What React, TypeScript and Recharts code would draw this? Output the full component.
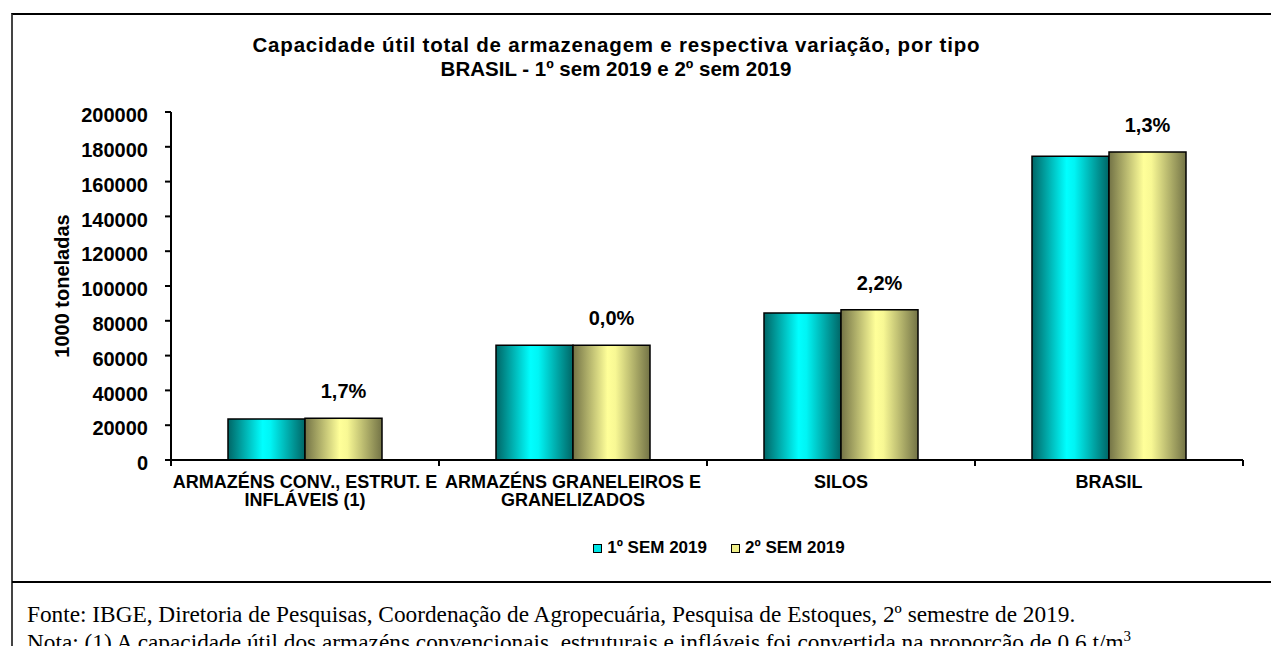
import { BarChart, Bar, XAxis, YAxis, Legend, LabelList, Label } from 'recharts';

const categoryLines = [
  ['ARMAZÉNS CONV., ESTRUT. E', 'INFLÁVEIS (1)'],
  ['ARMAZÉNS GRANELEIROS E', 'GRANELIZADOS'],
  ['SILOS'],
  ['BRASIL'],
];
const firstSemester = [23600, 66000, 84500, 174600];
const secondSemester = [24000, 66000, 86400, 177000];
const variation = ['1,7%', '0,0%', '2,2%', '1,3%'];
const yTicks = [0, 20000, 40000, 60000, 80000, 100000, 120000, 140000, 160000, 180000, 200000];
const seriesNames = { sem1: '1º SEM 2019', sem2: '2º SEM 2019' };

const data = categoryLines.map((lines, i) => ({
  name: lines.join(' '),
  sem1: firstSemester[i],
  sem2: secondSemester[i],
  variation: variation[i],
}));

const SANS = '"Liberation Sans", Arial, sans-serif';
const SERIF = '"Liberation Serif", "Times New Roman", serif';

const legendColors: Record<string, string> = { sem1: '#00e5e5', sem2: '#f0f08a' };

function CategoryTick(props: any) {
  const { x, y, payload, index, visibleTicksCount, width } = props;
  const half = payload?.offset ?? (width && visibleTicksCount ? width / visibleTicksCount / 2 : 134);
  const lines = categoryLines[index] || [String(payload.value)];
  const axisY = y - 6;
  const isLast = index === (visibleTicksCount ?? categoryLines.length) - 1;
  return (
    <g>
      <line x1={x - half} x2={x - half} y1={axisY} y2={axisY + 6} stroke="#000" strokeWidth={2} />
      {isLast && <line x1={x + half} x2={x + half} y1={axisY} y2={axisY + 6} stroke="#000" strokeWidth={2} />}
      <text x={x} y={y + 22} textAnchor="middle" fontFamily={SANS} fontWeight="bold" fontSize={18} fill="#000">
        {lines.map((line, i) => (
          <tspan key={i} x={x} dy={i === 0 ? 0 : 18}>
            {line}
          </tspan>
        ))}
      </text>
    </g>
  );
}

function renderLegend(props: any) {
  const items = props.payload || [];
  return (
    <div
      style={{
        display: 'flex',
        justifyContent: 'center',
        alignItems: 'center',
        height: 24,
        gap: 24,
        fontFamily: SANS,
        fontWeight: 'bold',
        fontSize: 17,
        color: '#000',
      }}
    >
      {items.map((entry: any) => (
        <div key={entry.dataKey} style={{ display: 'flex', alignItems: 'center' }}>
          <span
            style={{
              display: 'inline-block',
              width: 7,
              height: 7,
              border: '1px solid #000',
              background: legendColors[entry.dataKey],
              marginRight: 5,
            }}
          />
          {entry.value}
        </div>
      ))}
    </div>
  );
}

function VariationLabel(props: any) {
  const { x, y, width, value } = props;
  return (
    <text x={x + width / 2} y={y - 20} textAnchor="middle" fontFamily={SANS} fontWeight="bold" fontSize={20} fill="#000">
      {value}
    </text>
  );
}

function AxisTitle(props: any) {
  const vb = props.viewBox || { y: 112, height: 348 };
  const cx = 62;
  const cy = vb.y + vb.height / 2;
  return (
    <text
      x={cx}
      y={cy}
      transform={`rotate(-90 ${cx} ${cy})`}
      textAnchor="middle"
      dominantBaseline="central"
      fontFamily={SANS}
      fontWeight="bold"
      fontSize={20}
      fill="#000"
    >
      1000 toneladas
    </text>
  );
}

export default function App() {
  return (
    <div
      style={{
        position: 'absolute',
        left: 0,
        top: 0,
        width: 1271,
        height: 646,
        background: '#fff',
        overflow: 'hidden',
      }}
    >
      {/* frame */}
      <div
        style={{
          position: 'absolute',
          left: 11,
          top: 13,
          width: 1320,
          height: 700,
          borderTop: '2px solid #000',
          borderLeft: '2px solid #444',
        }}
      />
      <div style={{ position: 'absolute', left: 12, top: 581, width: 1259, height: 2, background: '#000' }} />

      <div style={{ position: 'absolute', left: 0, top: 0 }}>
        <BarChart
          width={1271}
          height={582}
          data={data}
          margin={{ top: 112, right: 28, bottom: 22, left: 0 }}
          barCategoryGap={57}
          barGap={0}
        >
          <defs>
            <linearGradient id="gradCyan" x1="0" y1="0" x2="1" y2="0">
              <stop offset="0%" stopColor="#006666" />
              <stop offset="45%" stopColor="#00ffff" />
              <stop offset="55%" stopColor="#00f5f5" />
              <stop offset="100%" stopColor="#006666" />
            </linearGradient>
            <linearGradient id="gradOlive" x1="0" y1="0" x2="1" y2="0">
              <stop offset="0%" stopColor="#737346" />
              <stop offset="45%" stopColor="#ffff99" />
              <stop offset="55%" stopColor="#f8f894" />
              <stop offset="100%" stopColor="#737346" />
            </linearGradient>
          </defs>
          <XAxis
            dataKey="name"
            height={76}
            interval={0}
            tickLine={false}
            tickSize={6}
            tickMargin={0}
            axisLine={{ stroke: '#000', strokeWidth: 2 }}
            tick={<CategoryTick />}
          />
          <YAxis
            width={171}
            domain={[0, 200000]}
            ticks={yTicks}
            interval={0}
            tickSize={6}
            tickMargin={17}
            axisLine={{ stroke: '#000', strokeWidth: 2 }}
            tickLine={{ stroke: '#000', strokeWidth: 2 }}
            tick={{ fill: '#000', fontSize: 20, fontWeight: 'bold', fontFamily: SANS, dy: 3 }}
          >
            <Label content={<AxisTitle />} />
          </YAxis>
          <Legend
            verticalAlign="bottom"
            height={24}
            content={renderLegend}
            wrapperStyle={{ left: 196, width: 1046 }}
          />
          <Bar
            dataKey="sem1"
            name={seriesNames.sem1}
            fill="url(#gradCyan)"
            stroke="#000"
            strokeWidth={1.5}
            isAnimationActive={false}
          />
          <Bar
            dataKey="sem2"
            name={seriesNames.sem2}
            fill="url(#gradOlive)"
            stroke="#000"
            strokeWidth={1.5}
            isAnimationActive={false}
          >
            <LabelList dataKey="variation" content={<VariationLabel />} />
          </Bar>
        </BarChart>
      </div>

      <svg width={1271} height={646} style={{ position: 'absolute', left: 0, top: 0, pointerEvents: 'none' }}>
        <text
          x={616}
          y={52}
          textAnchor="middle"
          fontFamily={SANS}
          fontWeight="bold"
          fontSize={20.5}
          textLength={727}
          lengthAdjust="spacing"
          fill="#000"
        >
          Capacidade útil total de armazenagem e respectiva variação, por tipo
        </text>
        <text x={616} y={76} textAnchor="middle" fontFamily={SANS} fontWeight="bold" fontSize={20.5} fill="#000">
          BRASIL - 1º sem 2019 e 2º sem 2019
        </text>
        <text x={27} y={622} fontFamily={SERIF} fontSize={23.3} fill="#000">
          Fonte: IBGE, Diretoria de Pesquisas, Coordenação de Agropecuária, Pesquisa de Estoques, 2º semestre de 2019.
        </text>
        <text x={27} y={650} fontFamily={SERIF} fontSize={23.3} fill="#000">
          Nota: (1) A capacidade útil dos armazéns convencionais, estruturais e infláveis foi convertida na proporção de 0,6 t/m
          <tspan fontSize={15} dy={-9}>3</tspan>
        </text>
      </svg>
    </div>
  );
}
